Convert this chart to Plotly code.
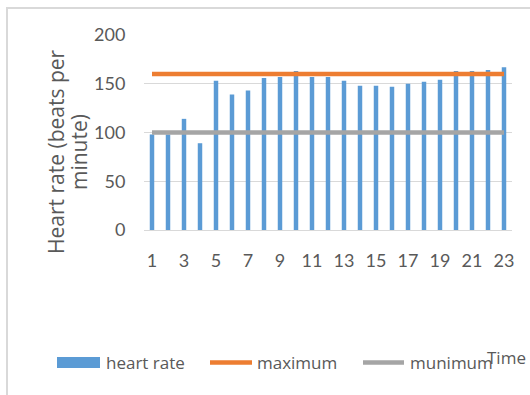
import plotly.graph_objects as go

# Hourly readings
time_points = list(range(1, 24))
heart_rate = [98, 98, 114, 89, 153, 139, 143, 156, 157, 163, 157, 157,
              153, 148, 148, 147, 150, 152, 154, 163, 163, 164, 167]
maximum_level = [160] * len(time_points)
minimum_level = [100] * len(time_points)

series_names = ["heart rate", "maximum", "munimum"]
series_colors = ["#5B9BD5", "#ED7D31", "#A5A5A5"]
x_tick_values = list(range(1, 24, 2))
y_tick_values = [0, 50, 100, 150, 200]
y_title_lines = ["Heart rate (beats per", "minute)"]

W, H = 530, 395
ML, MR, MT, MB = 144, 18, 35, 165
PW, PH = W - ML - MR, H - MT - MB
TEXT = "#595959"
GRID = "#D9D9D9"
TICK_FONT = "Lato"
LABEL_FONT = "Open Sans"


def px(x):
    return (x - ML) / PW


def py(y):
    return (H - MB - y) / PH


fig = go.Figure()
fig.add_trace(go.Bar(x=time_points, y=heart_rate, name=series_names[0],
                     marker=dict(color=series_colors[0], line=dict(width=0))))
fig.add_trace(go.Scatter(x=time_points, y=maximum_level, mode="lines",
                         name=series_names[1],
                         line=dict(color=series_colors[1], width=4.5)))
fig.add_trace(go.Scatter(x=time_points, y=minimum_level, mode="lines",
                         name=series_names[2],
                         line=dict(color=series_colors[2], width=4.5)))

shapes = [
    # outer chart frame
    dict(type="rect", xref="paper", yref="paper",
         x0=px(7), x1=px(540), y0=py(8), y1=py(410),
         line=dict(color=GRID, width=2), fillcolor="rgba(0,0,0,0)", layer="below"),
    # legend swatches
    dict(type="rect", xref="paper", yref="paper",
         x0=px(57), x1=px(100), y0=py(368), y1=py(357),
         line=dict(width=0), fillcolor=series_colors[0]),
    dict(type="line", xref="paper", yref="paper",
         x0=px(210), x1=px(252), y0=py(362.5), y1=py(362.5),
         line=dict(color=series_colors[1], width=4.5)),
    dict(type="line", xref="paper", yref="paper",
         x0=px(363), x1=px(404), y0=py(362.5), y1=py(362.5),
         line=dict(color=series_colors[2], width=4.5)),
]

annotations = []
# two-line rotated y-axis title with tight line spacing
for line, xc in zip(y_title_lines, [56, 79]):
    annotations.append(dict(text=line, xref="paper", yref="paper",
                            x=px(xc), y=py(152), textangle=-90, showarrow=False,
                            xanchor="center", yanchor="middle",
                            font=dict(family=LABEL_FONT, size=21, color=TEXT)))
annotations.append(dict(text="Time", xref="paper", yref="paper", x=px(485), y=py(357),
                        showarrow=False, xanchor="left", yanchor="middle",
                        font=dict(family=LABEL_FONT, size=17, color=TEXT)))
for name, x0 in zip(series_names, [104, 255, 408]):
    annotations.append(dict(text=name, xref="paper", yref="paper",
                            x=px(x0), y=py(362.5), showarrow=False,
                            xanchor="left", yanchor="middle",
                            font=dict(family=LABEL_FONT, size=17, color=TEXT)))

fig.update_layout(
    width=W, height=H, autosize=False,
    margin=dict(l=ML, r=MR, t=MT, b=MB),
    paper_bgcolor="white", plot_bgcolor="white",
    showlegend=False, bargap=0.72,
    font=dict(family=TICK_FONT, size=18, color=TEXT),
    shapes=shapes, annotations=annotations,
)
fig.update_xaxes(range=[0.5, 23.5], tickvals=x_tick_values,
                 ticks="outside", ticklen=14, tickcolor="rgba(0,0,0,0)",
                 showgrid=False, showline=True, linecolor=GRID, linewidth=1,
                 zeroline=False, tickfont=dict(family=TICK_FONT, size=18, color=TEXT))
fig.update_yaxes(range=[0, 200], tickvals=y_tick_values,
                 ticks="outside", ticklen=14, tickcolor="rgba(0,0,0,0)",
                 showgrid=True, gridcolor=GRID, gridwidth=1,
                 zeroline=False, showline=False,
                 tickfont=dict(family=TICK_FONT, size=18, color=TEXT))

fig.write_html("out.html")
